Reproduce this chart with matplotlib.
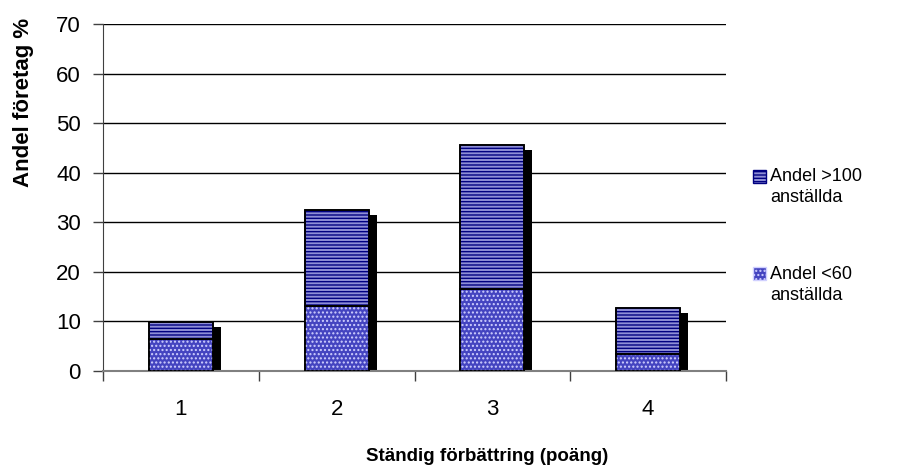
import matplotlib
matplotlib.use("Agg")
import matplotlib.pyplot as plt
from matplotlib.patches import Rectangle, Patch
from matplotlib.legend_handler import HandlerPatch
from matplotlib.transforms import ScaledTranslation
import numpy as np

plt.rcParams['font.family'] = ['Liberation Sans', 'DejaVu Sans']
plt.rcParams['hatch.linewidth'] = 1.0

# Data
categories = ["1", "2", "3", "4"]
small_firms = [6.5, 13.2, 16.5, 3.4]      # Andel <60 anställda
large_firms = [3.4, 19.3, 29.0, 9.4]      # Andel >100 anställda (stacked on top)
label_small = "Andel <60\nanställda"
label_large = "Andel >100\nanställda"
y_ticks = [0, 10, 20, 30, 40, 50, 60, 70]

x = np.arange(1, len(categories) + 1)
small = np.array(small_firms)
large = np.array(large_firms)
totals = small + large

fig = plt.figure(figsize=(9.14, 4.71), dpi=100)
ax = fig.add_axes([103/914, 1 - 371/471, 623/914, 347/471])

width = 0.41
dots_face, dots_hatch = '#4444c0', '#d0d0ff'
lines_face, lines_hatch = '#8e8ed6', '#000080'

# drop shadow behind each stacked column
shadow = ax.transData + ScaledTranslation(8/100, -5/100, fig.dpi_scale_trans)
ax.bar(x, totals, width, color='black', transform=shadow, zorder=2)

# bottom segment: dotted fill
ax.bar(x, small, width, color=dots_face, edgecolor='black', linewidth=1.2, zorder=3)
ax.bar(x, small, width, facecolor='none', edgecolor=dots_hatch, hatch='....',
       linewidth=0, zorder=3.1)
# top segment: horizontal stripes
ax.bar(x, large, width, bottom=small, color=lines_face, edgecolor='black',
       linewidth=1.2, zorder=3)
ax.bar(x, large, width, bottom=small, facecolor='none', edgecolor=lines_hatch,
       hatch='-----', linewidth=0, zorder=3.1)
# redraw outlines over the hatching
ax.bar(x, small, width, facecolor='none', edgecolor='black', linewidth=1.2, zorder=3.2)
ax.bar(x, large, width, bottom=small, facecolor='none', edgecolor='black',
       linewidth=1.2, zorder=3.2)

ax.set_xlim(0.5, 4.5)
ax.set_ylim(0, 70)
ax.set_yticks(y_ticks)
ax.set_xticks(x)
ax.set_xticklabels(categories)
ax.set_xticks(np.arange(0.5, 4.6, 1), minor=True)
ax.tick_params(axis='x', which='major', length=0, pad=20, labelsize=16)
ax.tick_params(axis='x', which='minor', length=7, width=1, color='#404040', direction='out')
ax.tick_params(axis='y', length=7, width=1, color='#404040', pad=9, labelsize=16)

for v in y_ticks:
    ax.axhline(v, color='black', linewidth=1.0, zorder=1)

for s in ['top', 'right']:
    ax.spines[s].set_visible(False)
ax.spines['left'].set_color('#404040')
ax.spines['bottom'].set_color('#808080')
ax.spines['bottom'].set_linewidth(1.5)

ax.set_ylabel("Andel företag %", fontsize=16, fontweight='bold')
ax.yaxis.set_label_coords(-0.11, 0.775)
ax.set_xlabel("Ständig förbättring (poäng)", fontsize=13.5, fontweight='bold')
ax.xaxis.set_label_coords(0.616, -0.222)


def first_line_square(legend, orig_handle, xdescent, ydescent, width, height, fontsize):
    return Rectangle((-xdescent, -ydescent + 0.62 * fontsize), width, height)


h_large = Patch(facecolor=lines_face, edgecolor=lines_hatch, hatch='-----')
h_small = Patch(facecolor=dots_face, edgecolor=dots_hatch, hatch='....')
leg = fig.legend([h_large, h_small], [label_large, label_small],
                 loc='upper left', bbox_to_anchor=(737/914, 1 - 152/471),
                 frameon=False, fontsize=13, handlelength=0.72, handleheight=0.72,
                 handletextpad=0.2, labelspacing=3.3,
                 handler_map={Patch: HandlerPatch(patch_func=first_line_square)})
for p in leg.get_patches():
    p.set_linewidth(1.0)
for t in leg.get_texts():
    t.set_linespacing(1.3)

fig.savefig("out.png", dpi=100)
